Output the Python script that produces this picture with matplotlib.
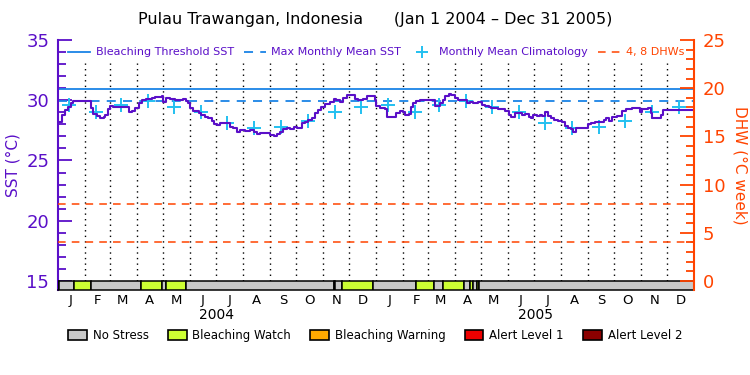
import numpy as np
import matplotlib
matplotlib.use("Agg")
import matplotlib.pyplot as plt
import matplotlib.dates as mdates
from matplotlib.lines import Line2D
from matplotlib.patches import Patch
from matplotlib.ticker import MultipleLocator

# --- data ---
start = np.datetime64("2004-01-01")
end = np.datetime64("2006-01-01")

# SST, days since Jan 1 2004
sst_day = [0, 5, 9, 12, 16, 18, 37, 38, 41, 45, 49, 53, 55, 58, 60, 64, 79, 82, 85, 89,
           93, 97, 102, 108, 112, 116, 120, 121, 125, 129, 135, 141, 144, 148, 150, 152,
           156, 162, 165, 169, 173, 177, 180, 183, 187, 192, 198, 202, 206, 210, 215, 221,
           225, 229, 232, 238, 244, 248, 252, 255, 259, 263, 267, 271, 275, 278, 281, 284,
           288, 292, 296, 299, 303, 307, 313, 317, 320, 324, 328, 332, 338, 341, 345, 351,
           355, 361, 364, 366, 370, 376, 378, 385, 389, 393, 397, 399, 403, 406, 408, 412,
           416, 431, 433, 437, 439, 443, 445, 449, 452, 456, 460, 466, 470, 473, 477, 483,
           487, 491, 495, 498, 502, 506, 510, 514, 518, 521, 525, 529, 533, 537, 541, 544,
           546, 550, 554, 556, 560, 563, 566, 570, 575, 579, 583, 586, 590, 592, 595, 598,
           607, 609, 613, 617, 623, 627, 630, 633, 636, 642, 646, 648, 653, 659, 665, 669,
           671, 678, 681, 682, 690, 693, 695, 731]
sst_val = [28.2, 28.78, 29.19, 29.47, 29.74, 29.94, 29.94, 29.33, 28.83, 28.72, 28.5, 28.58,
           28.78, 29.27, 29.55, 29.47, 29.47, 29.0, 29.1, 29.38, 29.74, 30.02, 30.1, 30.16,
           30.27, 30.3, 30.38, 29.88, 30.16, 30.1, 30.02, 30.02, 30.1, 29.94, 29.74, 29.33,
           29.1, 28.92, 28.78, 28.64, 28.5, 28.28, 28.0, 27.95, 28.09, 28.09, 27.8, 27.67,
           27.39, 27.53, 27.45, 27.53, 27.39, 27.2, 27.26, 27.31, 27.12, 27.06, 27.17, 27.39,
           27.61, 27.72, 27.61, 27.8, 27.72, 27.67, 28.09, 28.22, 28.36, 28.5, 28.92, 29.19,
           29.47, 29.66, 29.88, 30.1, 30.02, 29.88, 30.21, 30.44, 30.44, 30.1, 30.02, 30.1,
           30.38, 30.38, 30.02, 29.55, 29.33, 29.27, 28.64, 28.58, 28.92, 29.1, 29.05, 28.78,
           28.83, 29.47, 29.74, 29.94, 30.02, 30.02, 29.55, 29.55, 29.74, 30.02, 30.38, 30.49,
           30.44, 30.16, 30.02, 30.02, 29.74, 29.88, 29.74, 29.83, 29.61, 29.55, 29.47, 29.33,
           29.38, 29.27, 29.27, 29.1, 28.78, 28.64, 28.92, 28.92, 28.78, 28.83, 28.64, 28.5,
           28.78, 28.72, 28.78, 28.72, 29.0, 28.72, 28.5, 28.36, 28.28, 28.22, 27.89, 27.72,
           27.61, 27.34, 27.67, 27.72, 27.72, 28.0, 28.09, 28.17, 28.22, 28.36, 28.5, 28.28,
           28.64, 28.72, 28.72, 29.1, 29.27, 29.38, 29.38, 29.0, 29.27, 29.33, 28.92, 28.5,
           28.5, 28.78, 29.19, 29.19]

# monthly mean climatology, Jan..Dec
clim = [29.6, 29.05, 29.6, 29.9, 29.4, 29.05, 28.1, 27.7, 27.75, 28.25, 29.05, 29.4]
mmm = 29.93
threshold = 30.93
dhw_levels = [4, 8]

# stress level periods (start date, level); each runs until the next start
status_start = ["2004-01-01", "2004-01-03", "2004-01-20", "2004-02-09", "2004-04-06",
                "2004-04-30", "2004-05-04", "2004-05-28", "2004-11-13", "2004-11-15",
                "2004-11-23", "2004-12-28", "2005-02-15", "2005-03-08", "2005-03-19",
                "2005-04-12", "2005-04-19", "2005-04-22", "2005-04-26", "2005-04-29"]
status_level = [1, 0, 1, 0, 1, 0, 1, 0, 1, 0, 1, 0, 1, 0, 1, 0, 1, 0, 1, 0]

level_names = ["No Stress", "Bleaching Watch", "Bleaching Warning", "Alert Level 1", "Alert Level 2"]
level_colors = ["#c8c8c8", "#ccff33", "#ffaa00", "#ee0000", "#8b0000"]
month_letters = ["J", "F", "M", "A", "M", "J", "J", "A", "S", "O", "N", "D"]
years = ["2004", "2005"]

purple = "#5a0fc8"
red = "#ff4400"
blue = "#1a84e6"
cyan = "#22c0f0"

# --- figure ---
fig = plt.figure(figsize=(7.5, 3.75), dpi=100)
ax = fig.add_axes([0.0767, 0.2267, 0.849, 0.6667])
ax2 = ax.twinx()

x0 = mdates.date2num(start)
x1 = mdates.date2num(end)
months = np.arange(np.datetime64("2004-01"), np.datetime64("2006-02"), dtype="datetime64[M]")
month_x = mdates.date2num(months.astype("datetime64[D]"))

# month boundaries
for mx in month_x[1:-1]:
    ax.plot([mx, mx], [15, 33.1], color="k", lw=1, ls=(0, (1, 3)))

# reference lines
ax.axhline(threshold, color=blue, lw=1.3)
ax.axhline(mmm, color=blue, lw=1.3, ls=(0, (5, 4)))
for d in dhw_levels:
    ax2.axhline(d, color=red, lw=1.1, ls=(0, (5, 4)))

# climatology on the 14th of each month
clim_x = month_x[:-1] + 13
ax.plot(clim_x, clim * 2, ls="none", marker="+", ms=10, mew=1.4, color=cyan)

# SST
sst_x = x0 + np.array(sst_day)
ax.plot(sst_x, sst_val, color=purple, lw=1.5, drawstyle="steps-post")

# stress bar along the bottom
seg_x = list(mdates.date2num(np.array(status_start, dtype="datetime64[D]"))) + [x1]
for i, lev in enumerate(status_level):
    ax.bar(seg_x[i], 0.75, width=seg_x[i + 1] - seg_x[i], bottom=14.25, align="edge",
           color=level_colors[lev], edgecolor="k", lw=1.1, zorder=3)

ax.set_xlim(x0, x1)
ax.set_ylim(14.25, 35)
ax2.set_ylim(-0.934, 25)

# axes styling
ax.set_yticks([15, 20, 25, 30, 35])
ax.yaxis.set_minor_locator(MultipleLocator(1))
ax.tick_params(axis="y", which="major", direction="in", length=10, width=1.3, colors=purple, labelsize=13, pad=6)
ax.tick_params(axis="y", which="minor", direction="in", length=6, width=1.3, colors=purple)
ax2.set_yticks([0, 5, 10, 15, 20, 25])
ax2.yaxis.set_minor_locator(MultipleLocator(1))
ax2.tick_params(axis="y", which="major", direction="in", length=10, width=1.3, colors=red, labelsize=13, pad=6)
ax2.tick_params(axis="y", which="minor", direction="in", length=6, width=1.3, colors=red)

for a in (ax, ax2):
    a.spines["top"].set_visible(False)
ax.spines["left"].set_color(purple)
ax.spines["left"].set_linewidth(1.5)
ax2.spines["left"].set_visible(False)
ax2.spines["right"].set_color(red)
ax2.spines["right"].set_linewidth(1.5)
ax.spines["right"].set_visible(False)
ax2.spines["bottom"].set_visible(False)
ax.spines["bottom"].set_linewidth(1.1)

ax.set_xticks(month_x[:-1] + 15)
ax.set_xticklabels(month_letters * 2, fontsize=9.5)
ax.tick_params(axis="x", length=0, pad=3)
for i, y in enumerate(years):
    ax.text((month_x[12 * i] + month_x[12 * i + 12]) / 2, -0.1, y, transform=ax.get_xaxis_transform(),
            ha="center", va="center", fontsize=10)

ax.set_ylabel("SST (°C)", color=purple, fontsize=11, labelpad=4)
ax2.set_ylabel("DHW (°C week)", color=red, fontsize=11, rotation=270, labelpad=16)

fig.text(0.5, 0.947, "Pulau Trawangan, Indonesia      (Jan 1 2004 \u2013 Dec 31 2005)",
         ha="center", va="center", fontsize=11.5)

# legend inside the plot
handles = [Line2D([], [], color=blue, lw=1.3),
           Line2D([], [], color=blue, lw=1.3, ls=(0, (5, 4))),
           Line2D([], [], color=cyan, ls="none", marker="+", ms=9, mew=1.4),
           Line2D([], [], color=red, lw=1.1, ls=(0, (5, 4)))]
labels = ["Bleaching Threshold SST", "Max Monthly Mean SST", "Monthly Mean Climatology", "4, 8 DHWs"]
ax.legend(handles, labels, loc="upper center", bbox_to_anchor=(0.5, 1.01), ncol=4, frameon=False,
          fontsize=8, handlelength=2.0, handletextpad=0.5, columnspacing=0.9,
          labelcolor=[purple, purple, purple, red])

# stress legend under the plot
patches = [Patch(facecolor=c, edgecolor="k", lw=1.2) for c in level_colors]
fig.legend(patches, level_names, loc="center", bbox_to_anchor=(0.5, 0.105), ncol=5, frameon=False,
           fontsize=8.5, handlelength=1.6, handleheight=1.0, handletextpad=0.5, columnspacing=1.6)

fig.savefig("out.png", dpi=100)
